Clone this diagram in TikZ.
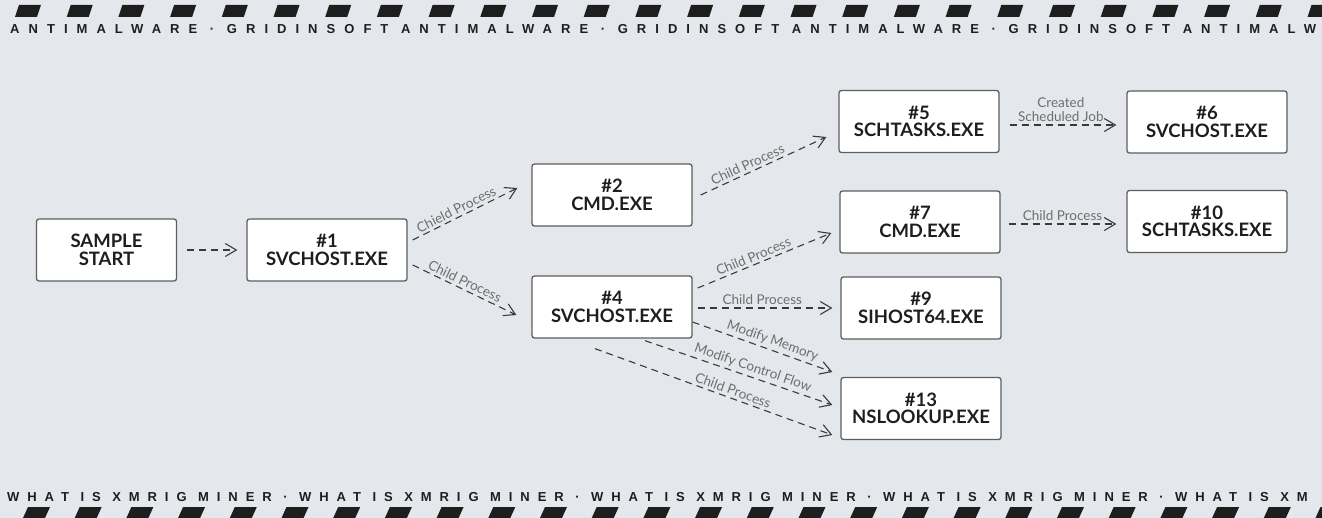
\documentclass[tikz,border=0pt]{standalone}
\usepackage{fontspec}
\usepackage{xcolor}
\setmainfont{Lato}
\newfontfamily\bannerfont[LetterSpace=69.5]{Liberation Sans}
\newfontfamily\bannerfontb[LetterSpace=61]{Liberation Sans}
\usetikzlibrary{arrows.meta}
\definecolor{bgcolor}{HTML}{E4E8EC}
\definecolor{boxgray}{HTML}{5E5E5E}
\definecolor{arrowgray}{HTML}{3A3A3A}
\definecolor{labelgray}{HTML}{6E6E6E}
\definecolor{inkblack}{HTML}{1E1E1E}

\begin{document}
\begin{tikzpicture}[x=1pt,y=-1pt,
    procbox/.style={draw=boxgray, line width=1.3pt, rounded corners=2.5pt, fill=white,
        minimum width=160pt, minimum height=62pt, align=center, text=inkblack,
        font=\fontsize{18.5}{17.5}\selectfont\bfseries},
    flow/.style={draw=arrowgray, line width=1.1pt, dash pattern=on 7pt off 5pt,
        -{Straight Barb[length=11pt,width=13pt]}},
    flowlabel/.style={sloped, above, inner sep=2.5pt, text=labelgray,
        font=\fontsize{13.5}{14}\selectfont}]
        % Draw the background
        \useasboundingbox (0,0) rectangle (1322,518);
        \fill[bgcolor] (0,0) rectangle (1322,518);
        \clip (0,0) rectangle (1322,518);

        % Draw the striped banners
        \foreach \i in {0,...,25}
            \fill[inkblack] ({15+51.7*\i},17) -- ++(22,0) -- ++(4,-12) -- ++(-22,0) -- cycle;
        \foreach \i in {0,...,25}
            \fill[inkblack] ({23+51.7*\i},518) -- ++(22,0) -- ++(5,-11) -- ++(-22,0) -- cycle;
        \node[anchor=base west, inner sep=0, text=inkblack] (toptext) at (10,34)
            {\bannerfont\fontsize{13}{15}\selectfont\bfseries ANTIMALWARE · GRIDINSOFT ANTIMALWARE · GRIDINSOFT ANTIMALWARE · GRIDINSOFT ANTIMALW};
        \node[anchor=base west, inner sep=0, text=inkblack] (bottomtext) at (7,501)
            {\bannerfontb\fontsize{13}{15}\selectfont\bfseries WHAT IS XMRIG MINER · WHAT IS XMRIG MINER · WHAT IS XMRIG MINER · WHAT IS XMRIG MINER · WHAT IS XM};

        % Draw the process boxes
        \node[procbox, minimum width=140pt] (start) at (106.5,250) {SAMPLE\\START};
        \node[procbox] (n1) at (327,250) {\#1\\SVCHOST.EXE};
        \node[procbox] (n2) at (612,195) {\#2\\CMD.EXE};
        \node[procbox] (n4) at (612,307) {\#4\\SVCHOST.EXE};
        \node[procbox] (n5) at (919,121.5) {\#5\\SCHTASKS.EXE};
        \node[procbox] (n7) at (920,222) {\#7\\CMD.EXE};
        \node[procbox] (n9) at (921,308) {\#9\\SIHOST64.EXE};
        \node[procbox] (n13) at (921,408.5) {\#13\\NSLOOKUP.EXE};
        \node[procbox] (n6) at (1207,122) {\#6\\SVCHOST.EXE};
        \node[procbox] (n10) at (1207,221.5) {\#10\\SCHTASKS.EXE};

        % Draw the dashed connectors
        \draw[flow, shorten <=10pt, shorten >=9pt] (start.east) -- (n1.west);
        \draw[flow] ([shift={(5,-10)}]n1.east) -- node[flowlabel, pos=0.45] {Chield Process} ([shift={(-14,-7)}]n2.west);
        \draw[flow] ([shift={(5,15)}]n1.east) -- node[flowlabel, pos=0.47] {Child Process} ([shift={(-15,8)}]n4.west);
        \draw[flow] ([shift={(8,0)}]n2.east) -- node[flowlabel, pos=0.4] {Child Process} ([shift={(-12,15.5)}]n5.west);
        \draw[flow] ([shift={(5,-19)}]n4.east) -- node[flowlabel, pos=0.44] {Child Process} ([shift={(-8,11)}]n7.west);
        \draw[flow] ([shift={(5,1)}]n4.east) -- node[flowlabel, pos=0.48] {Child Process} ([shift={(-8,0)}]n9.west);
        \draw[flow] ([shift={(0,15)}]n4.east) -- node[flowlabel, pos=0.55] {Modify Memory} ([shift={(-8,-36.5)}]n13.west);
        \draw[flow] ([shift={(33,2)}]n4.south) -- node[flowlabel, pos=0.56] {Modify Control Flow} ([shift={(-8,-3.5)}]n13.west);
        \draw[flow] ([shift={(-17,10)}]n4.south) -- node[flowlabel, pos=0.57] {Child Process} ([shift={(-8,26.5)}]n13.west);
        \draw[flow] ([shift={(10,3.5)}]n5.east) -- node[flowlabel, pos=0.48, align=center] {Created\\Scheduled Job} ([shift={(-10,3)}]n6.west);
        \draw[flow] ([shift={(8,2)}]n7.east) -- node[flowlabel, pos=0.5] {Child Process} ([shift={(-10,2.5)}]n10.west);
    \end{tikzpicture}
\end{document}
